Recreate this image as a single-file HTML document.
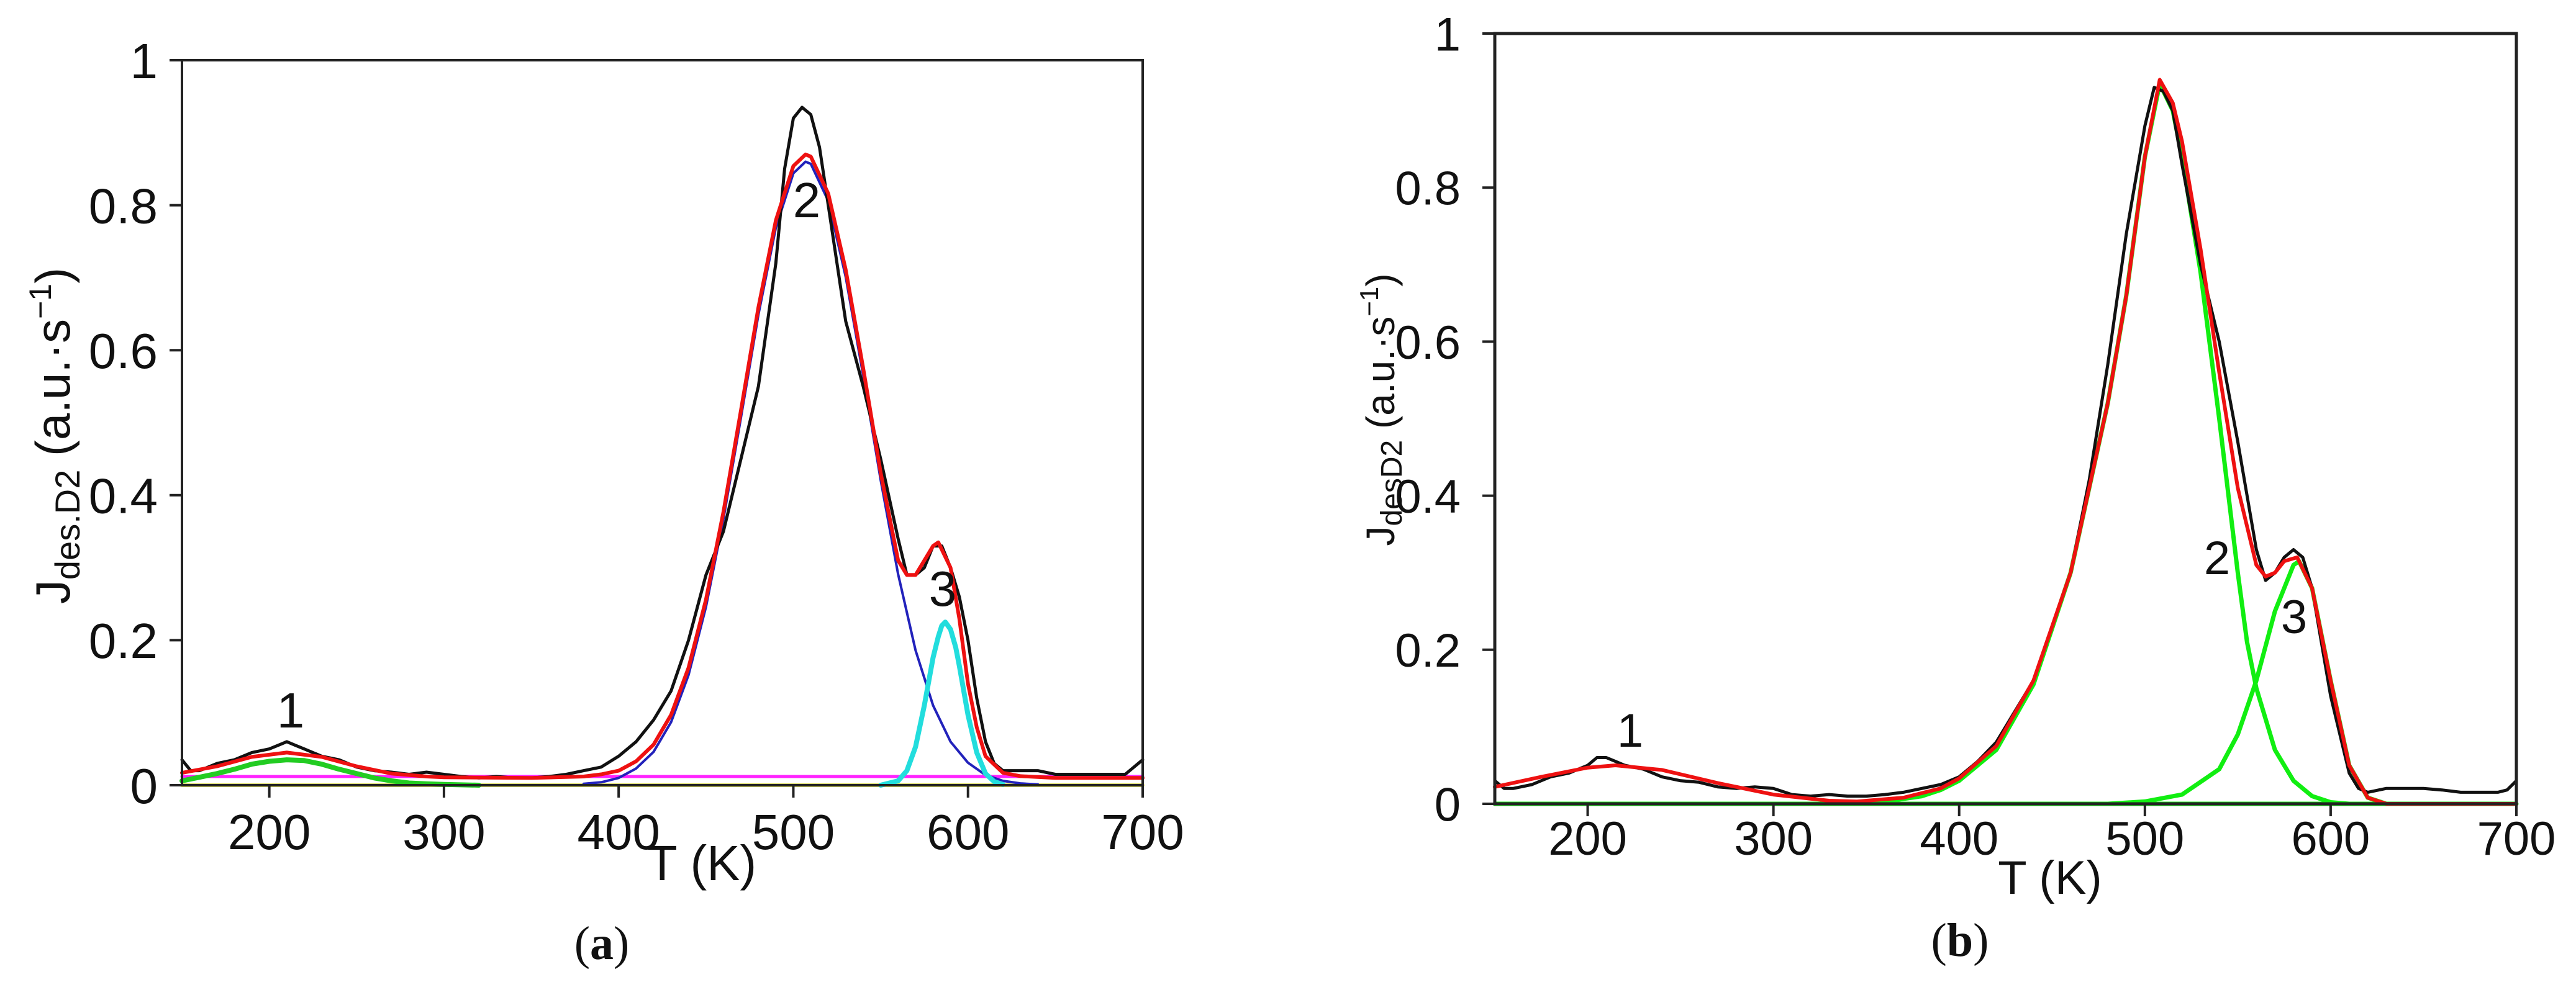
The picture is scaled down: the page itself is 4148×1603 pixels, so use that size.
<!DOCTYPE html>
<html><head><meta charset="utf-8"><style>
html,body{margin:0;padding:0;background:#fff;}
svg{display:block;font-family:"Liberation Sans",Arial,sans-serif;}
</style></head><body>
<svg id="fig" width="4148" height="1603" viewBox="0 0 4148 1603" xmlns="http://www.w3.org/2000/svg">
<rect width="4148" height="1603" fill="#fff"/>
<g id="pa"></g>
<g id="pb"></g>
</svg>
<script>
// ---- Panel (a) data ----
const xTicks = [200,300,400,500,600,700];
const yTicks = [0,0.2,0.4,0.6,0.8,1];
const yTickLabels = ["0","0.2","0.4","0.6","0.8","1"];
const aExpT = [150,155,160,170,180,190,200,205,210,215,220,230,240,250,260,270,280,290,300,310,320,330,340,350,360,370,380,390,400,410,420,430,440,450,460,470,480,490,495,500,505,510,515,520,530,540,550,560,565,570,575,580,585,590,595,600,605,610,615,620,630,640,650,660,670,680,690,700];
const aExpV = [0.035,0.02,0.02,0.03,0.035,0.045,0.05,0.055,0.06,0.055,0.05,0.04,0.035,0.025,0.02,0.018,0.015,0.018,0.015,0.012,0.01,0.012,0.01,0.01,0.012,0.015,0.02,0.025,0.04,0.06,0.09,0.13,0.2,0.29,0.35,0.45,0.55,0.72,0.85,0.92,0.935,0.925,0.88,0.8,0.64,0.55,0.45,0.34,0.29,0.29,0.3,0.33,0.33,0.3,0.26,0.2,0.12,0.06,0.03,0.02,0.02,0.02,0.015,0.015,0.015,0.015,0.015,0.035];
const aFitT = [150,170,190,210,230,250,270,290,300,350,380,390,400,410,420,430,440,450,460,470,480,490,500,507,510,520,530,540,550,560,565,570,575,580,583,590,595,600,605,610,620,630,650,700];
const aFitV = [0.017,0.026,0.039,0.045,0.039,0.026,0.016,0.012,0.011,0.01,0.012,0.015,0.02,0.033,0.056,0.097,0.162,0.256,0.377,0.517,0.659,0.779,0.854,0.87,0.867,0.816,0.711,0.575,0.431,0.31,0.29,0.29,0.31,0.33,0.335,0.3,0.23,0.14,0.08,0.04,0.017,0.0125,0.01,0.01];
const aP2T = [380,390,400,410,420,430,440,450,460,470,480,490,500,507,510,520,530,540,550,560,570,580,590,600,610,620,630,640];
const aP2V = [0.002,0.004,0.01,0.023,0.046,0.087,0.152,0.246,0.367,0.507,0.649,0.769,0.844,0.86,0.857,0.806,0.701,0.565,0.421,0.291,0.186,0.11,0.06,0.031,0.014,0.006,0.0025,0.001];
const aP3T = [550,560,565,570,575,580,583,585,587,590,593,595,600,605,610,615,620];
const aP3V = [0,0.006,0.02,0.053,0.11,0.176,0.205,0.22,0.225,0.215,0.19,0.165,0.097,0.045,0.016,0.005,0.001];
const aP1T = [150,160,170,180,190,200,210,220,230,240,250,260,270,280,290,300,320];
const aP1V = [0.006,0.011,0.016,0.022,0.029,0.033,0.035,0.034,0.029,0.022,0.016,0.01,0.006,0.003,0.002,0.001,0];
const aBaseT = [150,700];
const aBaseV = [0.012,0.012];
// ---- Panel (b) data ----
const bExpT = [150,155,160,170,180,190,200,205,210,215,220,230,240,250,260,270,280,290,300,310,320,330,340,350,360,370,380,390,400,410,420,430,440,450,460,470,480,490,500,505,510,515,520,530,540,550,560,565,570,575,580,585,590,600,610,615,620,630,640,650,660,670,680,690,695,700];
const bExpV = [0.03,0.02,0.02,0.025,0.035,0.04,0.05,0.06,0.06,0.055,0.05,0.045,0.035,0.03,0.028,0.022,0.02,0.022,0.02,0.012,0.01,0.012,0.01,0.01,0.012,0.015,0.02,0.025,0.035,0.055,0.08,0.12,0.16,0.23,0.3,0.42,0.57,0.74,0.88,0.93,0.925,0.9,0.83,0.7,0.6,0.47,0.33,0.29,0.3,0.32,0.33,0.32,0.28,0.14,0.04,0.02,0.015,0.02,0.02,0.02,0.018,0.015,0.015,0.015,0.018,0.03];
const bFitT = [150,175,200,215,240,270,300,330,345,370,390,400,420,440,460,480,490,500,508,515,520,530,540,550,560,565,570,575,582,590,600,610,620,630,700];
const bFitV = [0.022,0.035,0.047,0.05,0.044,0.027,0.012,0.004,0.003,0.008,0.02,0.033,0.075,0.16,0.3,0.52,0.66,0.84,0.94,0.91,0.86,0.72,0.56,0.41,0.31,0.295,0.3,0.315,0.32,0.28,0.16,0.05,0.008,0,0];
const bP2T = [340,360,380,390,400,420,440,460,480,490,500,508,515,520,530,540,550,555,560,570,580,590,600,610];
const bP2V = [0,0.003,0.01,0.018,0.03,0.07,0.155,0.3,0.52,0.66,0.84,0.935,0.9,0.84,0.69,0.5,0.3,0.21,0.15,0.07,0.03,0.01,0.002,0];
const bP3T = [480,500,520,540,550,560,570,580,583,590,600,610,620,630];
const bP3V = [0,0.003,0.012,0.045,0.09,0.16,0.25,0.31,0.315,0.28,0.16,0.05,0.008,0];
const bBaseT = [150,700];
const bBaseV = [0,0];

const NS = "http://www.w3.org/2000/svg";
function mk(parent, tag, attrs, text){
  const e = document.createElementNS(NS, tag);
  for (const k in attrs) e.setAttribute(k, attrs[k]);
  if (text !== undefined) e.textContent = text;
  parent.appendChild(e);
  return e;
}
function drawPanel(g, cfg){
  const sx = t => cfg.x0 + (t-150)/(700-150)*(cfg.x1-cfg.x0);
  const sy = v => cfg.y0 - v*(cfg.y0-cfg.y1);
  const path = (T,V) => T.map((t,i)=>(i?"L":"M")+sx(t).toFixed(1)+","+sy(V[i]).toFixed(1)).join("");
  cfg.series.forEach(s=>{
    const p = mk(g,"path",{d:path(s.T,s.V),fill:"none",stroke:s.c,"stroke-width":s.w,"stroke-linejoin":"round","stroke-linecap":"round"});
    
    
  });
  const fr = mk(g,"rect",{x:cfg.x0,y:cfg.y1,width:cfg.x1-cfg.x0,height:cfg.y0-cfg.y1,fill:"none",stroke:"#222","stroke-width":cfg.aw});
  
  
  xTicks.forEach(t=>{
    const x = sx(t);
    const tk = mk(g,"line",{x1:x,x2:x,y1:cfg.y0,y2:cfg.y0+20,stroke:"#222","stroke-width":4});
    
    
    const lb = mk(g,"text",{x:x,y:cfg.xlY,"font-size":cfg.fs,"text-anchor":"middle",fill:"#111"},String(t));
    
    
  });
  yTicks.forEach((v,i)=>{
    const y = sy(v);
    const tk = mk(g,"line",{x1:cfg.x0-20,x2:cfg.x0,y1:y,y2:y,stroke:"#222","stroke-width":4});
    
    
    const lb = mk(g,"text",{x:cfg.ylX,y:y+cfg.fs*0.36,"font-size":cfg.fs,"text-anchor":"end",fill:"#111"},yTickLabels[i]);
    
    
  });
  cfg.peaks.forEach(p=>{
    const lb = mk(g,"text",{x:p[0],y:p[1],"font-size":cfg.fs,"text-anchor":"middle",fill:"#111"},p[2]);
    
    
  });
}
const pa = document.getElementById("pa");
drawPanel(pa,{x0:293,x1:1840,y0:1265,y1:97,aw:4,fs:80,xlY:1368,ylX:254,
  peaks:[[468,1172,"1"],[1299,350,"2"],[1518,976,"3"]],
  series:[
    {T:[150,700],V:[0,0],c:"#d8d860",w:6,name:"zero-line"},
    {T:aBaseT,V:aBaseV,c:"#ff22ff",w:5,name:"baseline-series"},
    {T:aP1T,V:aP1V,c:"#22cc22",w:8,name:"peak-1-series"},
    {T:aP2T,V:aP2V,c:"#2222bb",w:4,name:"peak-2-series"},
    {T:aP3T,V:aP3V,c:"#22dddd",w:8,name:"peak-3-series"},
    {T:aExpT,V:aExpV,c:"#111",w:5,name:"experimental-series"},
    {T:aFitT,V:aFitV,c:"#ee1111",w:6,name:"fit-series"}
  ]});
const pb = document.getElementById("pb");
drawPanel(pb,{x0:2407,x1:4052,y0:1295,y1:54,aw:5,fs:76,xlY:1377,ylX:2352,
  peaks:[[2625,1203,"1"],[3570,925,"2"],[3694,1020,"3"]],
  series:[
    {T:bBaseT,V:bBaseV,c:"#11ee11",w:7,name:"baseline-series"},
    {T:bP2T,V:bP2V,c:"#11ee11",w:7,name:"peak-2-series"},
    {T:bP3T,V:bP3V,c:"#11ee11",w:7,name:"peak-3-series"},
    {T:bExpT,V:bExpV,c:"#111",w:5,name:"experimental-series"},
    {T:bFitT,V:bFitV,c:"#ee1111",w:6,name:"fit-series"}
  ]});
</script>
<svg style="position:absolute;left:0;top:0" width="4148" height="1603">
<text x="1130" y="1418" font-size="80" text-anchor="middle" fill="#111" font-family="Liberation Sans, sans-serif">T (K)</text>
<text x="3301" y="1440" font-size="76" text-anchor="middle" fill="#111" font-family="Liberation Sans, sans-serif">T (K)</text>
<text transform="translate(112,702) rotate(-90)" font-size="78" text-anchor="middle" fill="#111" font-family="Liberation Sans, sans-serif">J<tspan font-size="56" dy="16">des.D2</tspan><tspan dy="-16"> (a.u.·s</tspan><tspan font-size="50" dy="-30">−1</tspan><tspan dy="30">)</tspan></text>
<text transform="translate(2245,660) rotate(-90)" font-size="64" text-anchor="middle" fill="#111" font-family="Liberation Sans, sans-serif">J<tspan font-size="48" dy="12">desD2</tspan><tspan dy="-12"> (a.u.·s</tspan><tspan font-size="42" dy="-26">−1</tspan><tspan dy="26">)</tspan></text>
<text x="969" y="1545" font-size="76" text-anchor="middle" fill="#111" font-family="Liberation Serif, serif">(<tspan font-weight="bold">a</tspan>)</text>
<text x="3156" y="1540" font-size="76" text-anchor="middle" fill="#111" font-family="Liberation Serif, serif">(<tspan font-weight="bold">b</tspan>)</text>
</svg>
</body></html>
